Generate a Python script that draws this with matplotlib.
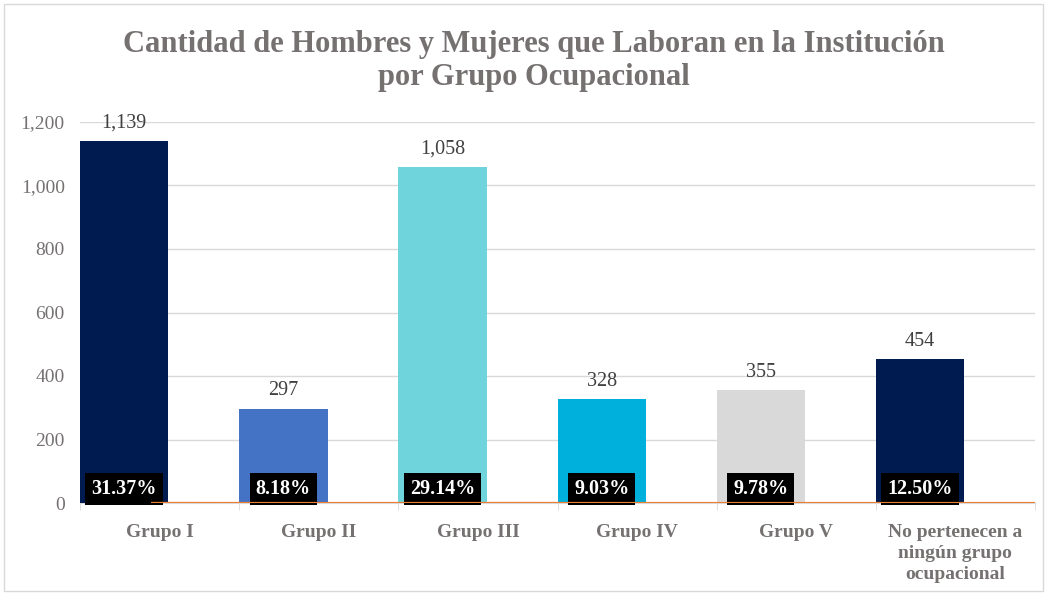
import matplotlib.pyplot as plt
import numpy as np
from matplotlib.ticker import FuncFormatter
from matplotlib.patches import Rectangle

grupos = ["Grupo I", "Grupo II", "Grupo III", "Grupo IV", "Grupo V",
          "No pertenecen a\nningún grupo\nocupacional"]
cantidad = [1139, 297, 1058, 328, 355, 454]
porcentaje = [31.37, 8.18, 29.14, 9.03, 9.78, 12.50]
colores = ["#001B50", "#4472C4", "#70D4DC", "#00B0DC", "#D9D9D9", "#001B50"]

gris = "#757171"
serif = ["Liberation Serif", "DejaVu Serif"]

fig = plt.figure(figsize=(10.47, 5.93), dpi=100)
fig.patches.append(Rectangle((0.004, 0.003), 0.992, 0.991, transform=fig.transFigure,
                             fill=False, edgecolor="#D9D9D9", linewidth=1))
ax = fig.add_axes([80 / 1047, 90 / 593, 955 / 1047, 381 / 593])

x = np.arange(len(grupos))
ancho = 0.555
centros = x - 0.5 + ancho / 2
barras = ax.bar(centros, cantidad, width=ancho, color=colores, zorder=2)

ax.set_xlim(-0.5, len(grupos) - 0.5)
ax.set_ylim(0, 1200)
ax.set_yticks(np.arange(0, 1201, 200))
ax.yaxis.set_major_formatter(FuncFormatter(lambda v, p: f"{int(v):,}"))
ax.grid(axis="y", color="#D9D9D9", linewidth=1, zorder=0)
ax.set_axisbelow(True)

for s in ["top", "right", "left"]:
    ax.spines[s].set_visible(False)
ax.spines["bottom"].set_color("#D9D9D9")
ax.spines["bottom"].set_zorder(1)

ax.set_xticks(x)
ax.set_xticklabels(grupos, fontfamily=serif, fontweight="bold", fontsize=14,
                   color=gris, linespacing=1.3, va="top")
ax.tick_params(axis="x", length=0, pad=15)
ax.set_xticks(np.arange(-0.5, len(grupos), 1), minor=True)
ax.tick_params(axis="x", which="minor", length=5, color="#D9D9D9")
ax.tick_params(axis="y", length=0, pad=11, labelsize=14, labelcolor=gris)
for t in ax.get_yticklabels():
    t.set_fontfamily(serif)

# etiquetas de cantidad sobre las barras
for b, v in zip(barras, cantidad):
    ax.annotate(f"{v:,}", (b.get_x() + b.get_width() / 2, v), xytext=(0, 6),
                textcoords="offset points", ha="center", va="bottom",
                fontfamily=serif, fontsize=14.5, color="#404040")

# linea de porcentaje (fracciones, casi en cero) en un eje x secundario
ax2 = ax.twiny()
ax2.set_xlim(-0.408, len(grupos) - 1)
ax2.axis("off")
ax2.plot(x, np.array(porcentaje) / 100, color="#ED7D31", linewidth=1.5, zorder=3)
ax2.set_ylim(0, 1200)

# porcentajes en cajas negras
for c, p in zip(centros, porcentaje):
    ax.text(c, 14, f"{p:.2f}%", ha="center", va="bottom", fontfamily=serif,
            fontweight="bold", fontsize=14.5, color="white", zorder=5,
            bbox=dict(boxstyle="square,pad=0.3", facecolor="black", edgecolor="none"))

fig.text(0.51, 0.95, "Cantidad de Hombres y Mujeres que Laboran en la Institución\npor Grupo Ocupacional",
         ha="center", va="top", fontfamily=serif, fontweight="bold", fontsize=22,
         color=gris, linespacing=1.22)

fig.savefig("out.png", dpi=100)
